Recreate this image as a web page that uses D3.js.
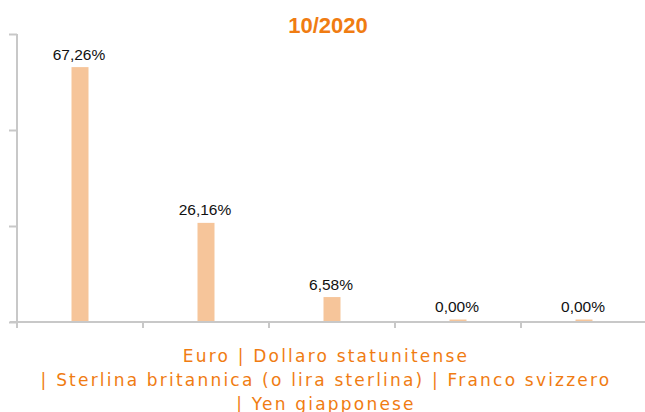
<!DOCTYPE html>
<html>
<head>
<meta charset="utf-8">
<script src="https://cdn.jsdelivr.net/npm/d3@7"></script>
<style>
  body { margin: 0; background: #fff; }
  svg { display: block; }
</style>
</head>
<body>
<svg id="chart" width="645" height="412"></svg>
<script>
const title = "10/2020";
const categories = ["Euro", "Dollaro statunitense", "Sterlina britannica (o lira sterlina)", "Franco svizzero", "Yen giapponese"];
const values = [67.26, 26.16, 6.58, 0.00, 0.00];
const yMax = 76;
const yTickCount = 3;
// how the category names wrap in the footer
const footerLines = [[0, 1], [2, 3], [4]];

const svg = d3.select("#chart");
const width = 645, height = 412;
const margin = { top: 34, right: -2, bottom: 90, left: 17 };

const x = d3.scaleBand()
    .domain(categories)
    .range([margin.left, width - margin.right])
    .padding(0);

const y = d3.scaleLinear()
    .domain([0, yMax])
    .range([height - margin.bottom, margin.top]);

const axisColor = "#c8c8c8";
const barColor = "#f6c59a";
const orange = "#f07c12";
const barW = 17;
const minBarH = 2.5;

// title
svg.append("text")
    .attr("x", 328)
    .attr("y", 33)
    .attr("text-anchor", "middle")
    .style("font-family", "'Liberation Sans', Arial, sans-serif")
    .style("font-weight", "bold")
    .style("font-size", "22px")
    .style("fill", orange)
    .text(title);

// bars
svg.selectAll("rect.bar")
    .data(values)
    .join("rect")
    .attr("class", "bar")
    .attr("x", (d, i) => x(categories[i]) + x.bandwidth() / 2 - barW / 2)
    .attr("width", barW)
    .attr("y", d => Math.min(y(d), y(0) - minBarH))
    .attr("height", d => Math.max(y(0) - y(d), minBarH))
    .style("fill", barColor);

// value labels
svg.selectAll("text.val")
    .data(values)
    .join("text")
    .attr("class", "val")
    .attr("x", (d, i) => x(categories[i]) + x.bandwidth() / 2 - 1)
    .attr("y", d => Math.min(y(d), y(0) - minBarH) - 7.5)
    .attr("text-anchor", "middle")
    .style("font-family", "'Liberation Sans', Arial, sans-serif")
    .style("font-size", "15.5px")
    .style("fill", "#111")
    .text(d => d.toFixed(2).replace(".", ",") + "%");

// y axis
const yTicks = d3.range(yTickCount + 1).map(i => i * yMax / yTickCount);
const yAxis = svg.append("g")
    .attr("transform", `translate(${margin.left},0)`)
    .call(d3.axisLeft(y).tickValues(yTicks).tickSize(8).tickFormat(""));
yAxis.select(".domain").remove();
yAxis.append("line")
    .attr("x1", 0).attr("x2", 0)
    .attr("y1", y(yMax)).attr("y2", y(0) + 6);

// x axis
const xAxis = svg.append("g")
    .attr("transform", `translate(0,${y(0)})`)
    .call(d3.axisBottom(x).tickSize(0).tickFormat(""));
xAxis.select(".domain").remove();
xAxis.append("line")
    .attr("x1", 10).attr("x2", width)
    .attr("y1", 0).attr("y2", 0);
xAxis.selectAll("line.sep")
    .data(categories.slice(1))
    .join("line")
    .attr("class", "sep")
    .attr("x1", d => x(d)).attr("x2", d => x(d))
    .attr("y1", 0).attr("y2", 6);

svg.selectAll("g line")
    .style("stroke", axisColor)
    .style("stroke-width", 2);

// footer with category names
const footer = svg.append("text")
    .attr("text-anchor", "middle")
    .style("font-family", "'DejaVu Sans', Verdana, sans-serif")
    .style("font-size", "17px")
    .style("letter-spacing", "2.2px")
    .style("fill", orange);

footerLines.forEach((idx, li) => {
    const txt = (li > 0 ? "| " : "") + idx.map(i => categories[i]).join(" | ");
    footer.append("tspan")
        .attr("x", 326)
        .attr("y", 362 + li * 24)
        .text(txt);
});
</script>
</body>
</html>
